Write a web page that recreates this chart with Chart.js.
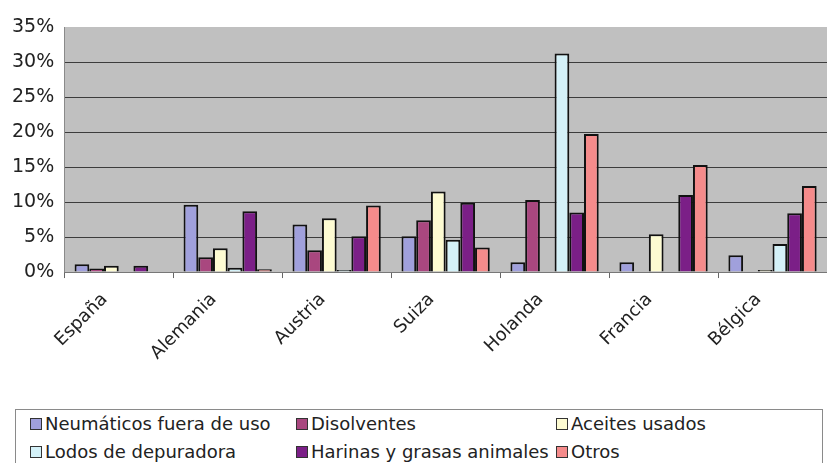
<!DOCTYPE html>
<html lang="es">
<head>
  <meta charset="UTF-8" />
  <title>Residuos por país</title>
  <script src="https://cdn.jsdelivr.net/npm/chart.js"></script>
  <style>
    body { margin: 0; background: #fff; font-family: 'DejaVu Sans', sans-serif; }
    .wrap { position: relative; width: 827px; height: 463px; overflow: hidden; }
    .chart-box { position: absolute; left: 0; top: 0; width: 827px; height: 375px; }
    .legend {
      position: absolute; left: 15px; top: 409px; width: 806px; height: 70px;
      border: 1px solid #8a8a8a; background: #fff;
    }
    .legend span {
      position: absolute; font-size: 18px; color: #222; white-space: nowrap; line-height: 20px;
    }
    .legend i {
      display: inline-block; width: 10px; height: 10px; border: 1px solid #333;
      margin-right: 3px; vertical-align: 0px;
    }
  </style>
</head>
<body>
  <div class="wrap">
    <div class="chart-box"><canvas id="chart"></canvas></div>
    <div class="legend" id="legend"></div>
  </div>

  <script>
    const countries = ["España", "Alemania", "Austria", "Suiza", "Holanda", "Francia", "Bélgica"];
    const seriesNames = ["Neumáticos fuera de uso", "Disolventes", "Aceites usados",
                         "Lodos de depuradora", "Harinas y grasas animales", "Otros"];
    const colors = ["#a0a0dc", "#a9477f", "#fdfbd2", "#d4f1f8", "#7b1f87", "#f58b8b"];

    // % per country
    const neumaticos = [1.1, 9.6, 6.8, 5.1, 1.4, 1.4, 2.4];
    const disolventes = [0.5, 2.1, 3.1, 7.4, 10.3, 0, 0];
    const aceites = [0.9, 3.4, 7.7, 11.5, 0, 5.4, 0.3];
    const lodos = [0, 0.6, 0.3, 4.6, 31.2, 0, 4.0];
    const harinas = [0.9, 8.7, 5.1, 9.9, 8.5, 11.0, 8.4];
    const otros = [0, 0.4, 9.5, 3.5, 19.7, 15.3, 12.3];
    const yTicks = [0, 5, 10, 15, 20, 25, 30, 35];

    const values = [neumaticos, disolventes, aceites, lodos, harinas, otros];

    // legend, 3 columns x 2 rows
    const legendX = [14, 280, 540];
    const legendY = [4, 32];
    const legend = document.getElementById("legend");
    seriesNames.forEach((name, i) => {
      const s = document.createElement("span");
      s.style.left = legendX[i % 3] + "px";
      s.style.top = legendY[Math.floor(i / 3)] + "px";
      s.innerHTML = `<i style="background:${colors[i]}"></i>${name}`;
      legend.appendChild(s);
    });

    const plotBg = {
      id: "plotBg",
      beforeDraw(chart) {
        const { ctx, chartArea: a } = chart;
        ctx.save();
        ctx.fillStyle = "#c0c0c0";
        ctx.fillRect(a.left, a.top, a.right - a.left, a.bottom - a.top);
        ctx.restore();
      }
    };

    new Chart(document.getElementById("chart"), {
      type: "bar",
      data: {
        labels: countries,
        datasets: values.map((data, i) => ({
          label: seriesNames[i],
          data,
          backgroundColor: colors[i],
          borderColor: "#111",
          borderWidth: 2,
          categoryPercentage: 0.81,
          barPercentage: 1.0
        }))
      },
      options: {
        responsive: true,
        maintainAspectRatio: false,
        animation: false,
        layout: { padding: { left: 2, top: 27, right: -8, bottom: 0 } },
        plugins: { legend: { display: false }, tooltip: { enabled: false } },
        scales: {
          y: {
            min: 0, max: 35,
            afterBuildTicks: axis => { axis.ticks = yTicks.map(v => ({ value: v })); },
            ticks: {
              callback: v => v + "%",
              font: { family: "DejaVu Sans", size: 19 },
              color: "#222",
              padding: 10
            },
            grid: {
              drawTicks: false,
              color: c => c.tick && c.tick.value === 35 ? "rgba(0,0,0,0)" : "#3c3c3c"
            },
            border: { color: "#8a8a8a" }
          },
          x: {
            ticks: {
              font: { family: "DejaVu Sans", size: 18 },
              color: "#222",
              minRotation: 45, maxRotation: 45,
              padding: 11,
              labelOffset: -14
            },
            grid: { drawOnChartArea: false, tickLength: 6, color: "#666" },
            border: { color: "#777" }
          }
        }
      },
      plugins: [plotBg]
    });
  </script>
</body>
</html>
